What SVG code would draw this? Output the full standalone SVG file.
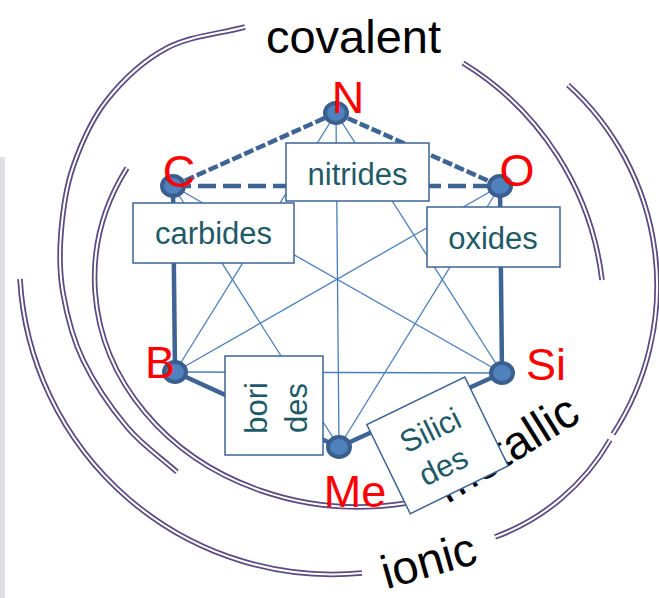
<svg xmlns="http://www.w3.org/2000/svg" xmlns:xlink="http://www.w3.org/1999/xlink" width="659" height="598" viewBox="0 0 659 598">
  <style>
    .arc-out { fill: none; stroke: #5c4a82; stroke-width: 5.5; }
    .arc-in { fill: none; stroke: #ffffff; stroke-width: 2; }
    .thin { stroke: #4a7ebb; stroke-width: 1.3; fill: none; }
    .thick { stroke: #3d6495; stroke-width: 4.5; fill: none; }
    .dash-h { stroke: #3d6495; stroke-width: 4.5; stroke-dasharray: 18 7; fill: none; }
    .dash-s { stroke: #3d6495; stroke-width: 4.5; stroke-dasharray: 10 3; fill: none; }
    .node { fill: #4f81bd; stroke: #3a5f8e; stroke-width: 4; }
    .box { fill: #ffffff; stroke: #3c6494; stroke-width: 1.5; }
    .box-text { font-family: "Liberation Sans", Arial, sans-serif; font-size: 31px; fill: #1f5a68; text-anchor: middle; }
    .elem { font-family: "Liberation Sans", Arial, sans-serif; font-size: 45px; fill: #ff0000; text-anchor: middle; }
    .bond { font-family: "Liberation Sans", Arial, sans-serif; font-size: 47px; fill: #000000; text-anchor: middle; }
  </style>
  <defs>
    <path id="arc-cov-left" d="M245,27 C219,34 190,35.8 167,48 C144,60.2 122.7,80.2 107,100 C91.3,119.8 80.7,144.8 73,167 C65.3,189.2 62.7,212 61,233 C59.3,254 59.3,271.8 63,293 C66.7,314.2 72.3,337.7 83,360 C93.7,382.3 111.3,408.3 127,427 C142.7,445.7 160.3,457 177,472"/>
    <path id="arc-cov-right" d="M463,63 A295,295 0 0 1 602,280"/>
    <path id="arc-outer-right" d="M568,85 A271,271 0 0 1 613,434"/>
    <path id="arc-lower-right" d="M610,440 A220,220 0 0 1 495,537"/>
    <path id="arc-ionic-left" d="M20,279 A313,313 0 0 0 362,573"/>
    <path id="arc-metallic" d="M127,168 A264,229 0 0 0 407,503"/>
  </defs>

  <rect x="0" y="157" width="5" height="441" fill="#dedee3"/>

  <g id="bond-arcs">
    <use xlink:href="#arc-cov-left" class="arc-out"/>
    <use xlink:href="#arc-cov-left" class="arc-in"/>
    <use xlink:href="#arc-cov-right" class="arc-out"/>
    <use xlink:href="#arc-cov-right" class="arc-in"/>
    <use xlink:href="#arc-outer-right" class="arc-out"/>
    <use xlink:href="#arc-outer-right" class="arc-in"/>
    <use xlink:href="#arc-lower-right" class="arc-out"/>
    <use xlink:href="#arc-lower-right" class="arc-in"/>
    <use xlink:href="#arc-ionic-left" class="arc-out"/>
    <use xlink:href="#arc-ionic-left" class="arc-in"/>
    <use xlink:href="#arc-metallic" class="arc-out"/>
    <use xlink:href="#arc-metallic" class="arc-in"/>
  </g>

  <g id="bond-labels">
    <text class="bond" x="353.5" y="53">covalent</text>
    <text class="bond" transform="translate(515,462) rotate(-32)">metallic</text>
    <text class="bond" transform="translate(433,576) rotate(-16)">ionic</text>
  </g>

  <g id="connectors">
    <line class="thin" x1="336" y1="113" x2="175" y2="372"/>
    <line class="thin" x1="336" y1="113" x2="339" y2="447"/>
    <line class="thin" x1="336" y1="113" x2="502" y2="373"/>
    <line class="thin" x1="173" y1="186" x2="339" y2="447"/>
    <line class="thin" x1="173" y1="186" x2="502" y2="373"/>
    <line class="thin" x1="500" y1="186" x2="175" y2="372"/>
    <line class="thin" x1="500" y1="186" x2="339" y2="447"/>
    <line class="thin" x1="175" y1="372" x2="502" y2="373"/>
    <line class="thick" x1="173" y1="186" x2="175" y2="372"/>
    <line class="thick" x1="500" y1="186" x2="502" y2="373"/>
    <line class="thick" x1="175" y1="372" x2="339" y2="447"/>
    <line class="thick" x1="339" y1="447" x2="502" y2="373"/>
    <line class="dash-h" x1="173" y1="186" x2="500" y2="186"/>
    <line class="dash-s" x1="173" y1="186" x2="336" y2="113"/>
    <line class="dash-s" x1="336" y1="113" x2="500" y2="186"/>
  </g>

  <g id="node-N"><ellipse class="node" cx="336" cy="113" rx="11" ry="10"/><text class="elem" x="348" y="113">N</text></g>
  <g id="node-C"><ellipse class="node" cx="173" cy="186" rx="11" ry="10"/><text class="elem" x="179" y="187">C</text></g>
  <g id="node-O"><ellipse class="node" cx="500" cy="186" rx="11" ry="10"/><text class="elem" x="517" y="186">O</text></g>
  <g id="node-B"><ellipse class="node" cx="175" cy="372" rx="11" ry="10"/><text class="elem" x="160" y="378">B</text></g>
  <g id="node-Si"><ellipse class="node" cx="502" cy="373" rx="11" ry="10"/><text class="elem" x="546" y="380">Si</text></g>
  <g id="node-Me"><ellipse class="node" cx="339" cy="447" rx="11" ry="10"/><text class="elem" x="355" y="507">Me</text></g>

  <g id="box-nitrides">
    <rect class="box" x="286" y="143" width="143" height="58"/>
    <text class="box-text" x="357.5" y="185">nitrides</text>
  </g>
  <g id="box-carbides">
    <rect class="box" x="133" y="203" width="161" height="60"/>
    <text class="box-text" x="213.5" y="244">carbides</text>
  </g>
  <g id="box-oxides">
    <rect class="box" x="427" y="207" width="133" height="60"/>
    <text class="box-text" x="493" y="249">oxides</text>
  </g>
  <g id="box-borides">
    <rect class="box" x="225" y="356" width="98" height="99"/>
    <text class="box-text" transform="translate(267,408) rotate(-90)">bori</text>
    <text class="box-text" transform="translate(307,408) rotate(-90)">des</text>
  </g>
  <g id="box-silicides" transform="translate(437.5,445.3) rotate(-26)">
    <rect class="box" x="-54.5" y="-49.5" width="109" height="99"/>
    <text class="box-text" x="0" y="-6">Silici</text>
    <text class="box-text" x="-4" y="32">des</text>
  </g>
</svg>
